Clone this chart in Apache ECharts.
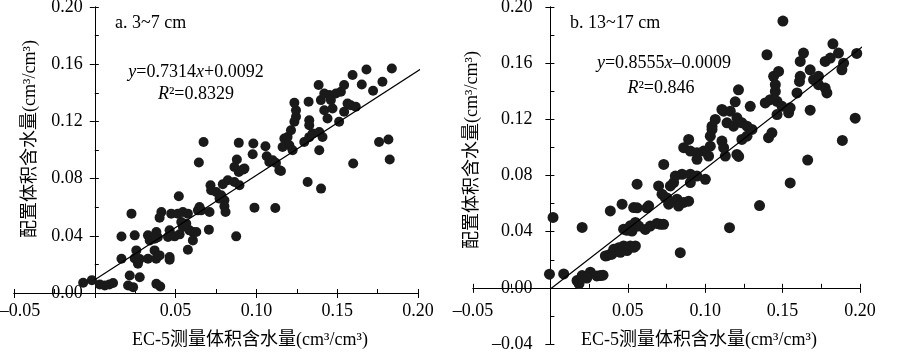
<!DOCTYPE html>
<html>
<head>
<meta charset="utf-8">
<script src="https://cdn.jsdelivr.net/npm/echarts@6/dist/echarts.min.js"></script>
</head>
<body style="margin:0;background:#fff">
<div id="main" style="width:900px;height:353px"></div>
<script>
// a. 3~7 cm : [EC-5, 配置]
var ptsA = [
  [-0.0072,0.0072],[-0.0018,0.009],[0.0031,0.006],[0.0062,0.0052],[0.009,0.006],[0.0113,0.007],
  [0.0216,0.0123],[0.0278,0.011],[0.0206,0.0053],[0.0237,0.0041],[0.0381,0.0064],[0.0405,0.0045],
  [0.0165,0.024],[0.0165,0.0395],[0.0227,0.0555],[0.0247,0.0403],[0.0257,0.0298],[0.0247,0.0242],
  [0.0267,0.0205],[0.0278,0.0238],[0.0329,0.0403],[0.034,0.0368],[0.039,0.039],[0.037,0.0298],
  [0.0329,0.024],[0.038,0.024],[0.0401,0.0263],[0.0463,0.0233],[0.0463,0.0251],
  [0.0412,0.0566],[0.0401,0.0527],[0.0473,0.0555],[0.0514,0.0555],[0.0545,0.0566],[0.0576,0.0555],[0.052,0.0676],
  [0.0463,0.0438],[0.0453,0.0391],[0.0381,0.0426],[0.037,0.038],[0.0494,0.0396],[0.0525,0.041],
  [0.0535,0.0496],[0.0545,0.0461],[0.0586,0.0438],[0.0607,0.0426],[0.0607,0.0368],[0.0576,0.0303],[0.0566,0.0485],
  [0.0638,0.0578],[0.0658,0.0578],[0.0706,0.0443],[0.0628,0.0426],[0.0648,0.0601],
  [0.0673,0.1056],[0.0644,0.0912],
  [0.0716,0.0753],[0.072,0.0718],[0.0751,0.0706],[0.0782,0.0683],[0.0802,0.0648],[0.0802,0.0606],
  [0.0809,0.0566],[0.0772,0.066],[0.071,0.0566],[0.0823,0.0788],[0.0792,0.076],[0.0895,0.0753],
  [0.0864,0.0776],[0.0879,0.0933],[0.0864,0.0881],[0.0891,0.0846],[0.0916,0.0863],[0.0926,0.087],
  [0.0875,0.0396],[0.0891,0.105],
  [0.0988,0.0597],[0.0981,0.1045],[0.0977,0.097],[0.1056,0.1026],[0.1064,0.0956],[0.108,0.0916],
  [0.1121,0.0909],[0.1152,0.0853],[0.1117,0.0594],
  [0.1101,0.0928],[0.1142,0.0858],[0.1162,0.1021],[0.1173,0.108],[0.1193,0.1091],[0.1204,0.1033],
  [0.1224,0.0998],[0.1214,0.1138],[0.1235,0.1197],[0.1245,0.1232],[0.1245,0.1278],[0.1235,0.133],
  [0.1296,0.1056],[0.1327,0.109],[0.1348,0.1115],[0.1327,0.1208],[0.1327,0.1173],[0.1323,0.1337],
  [0.1317,0.0776],[0.14,0.073],[0.1389,0.0998],[0.1389,0.1126],[0.1409,0.1091],[0.142,0.1278],
  [0.144,0.122],[0.1471,0.129],[0.1385,0.1454],[0.1399,0.1349],[0.142,0.1395],[0.1451,0.1384],
  [0.1461,0.1349],[0.1492,0.1395],[0.1523,0.1407],[0.1543,0.1454],[0.1512,0.1197],[0.1543,0.1267],
  [0.1564,0.1325],[0.1584,0.1313],[0.1615,0.1302],[0.1595,0.1524],[0.1652,0.1458],[0.1681,0.1563],
  [0.1722,0.1414],[0.178,0.1477],[0.1838,0.157],[0.1759,0.1056],[0.1817,0.1073],[0.1825,0.0933],[0.1599,0.0905]
];
// b. 13~17 cm
var ptsB = [
  [-0.0006,0.0097],[0.0017,0.0501],[0.0086,0.0099],[0.0172,0.0052],[0.0205,0.0087],[0.0185,0.003],
  [0.0258,0.0111],[0.0235,0.007],[0.030,0.0085],[0.0323,0.0087],[0.034,0.009],[0.0205,0.043],
  [0.0355,0.0227],[0.0366,0.0229],[0.0387,0.0239],[0.0398,0.024],[0.0409,0.0274],[0.0441,0.0286],
  [0.0452,0.0253],[0.0473,0.0298],[0.0495,0.0265],[0.0516,0.0298],[0.0538,0.0289],[0.0549,0.0298],
  [0.0387,0.0548],[0.0463,0.0596],[0.0473,0.0418],[0.0495,0.041],[0.0516,0.0442],[0.0527,0.0404],
  [0.0549,0.0466],[0.0549,0.044],[0.057,0.044],[0.0613,0.0416],[0.0645,0.044],[0.0688,0.0459],
  [0.071,0.0452],[0.0731,0.0452],[0.056,0.0738],[0.056,0.057],[0.0538,0.0572],[0.0624,0.057],
  [0.0635,0.0584],[0.0839,0.025],
  [0.0699,0.0726],[0.0721,0.0667],[0.0742,0.0643],[0.0753,0.064],[0.0764,0.0596],[0.0732,0.0879],
  [0.0775,0.0726],[0.0796,0.075],[0.0807,0.0796],[0.085,0.0809],[0.0818,0.0631],[0.0828,0.0582],
  [0.0861,0.0608],[0.0893,0.0617],[0.0904,0.0809],[0.0947,0.0796],[0.1001,0.0773],[0.0904,0.075],
  [0.0861,0.0998],[0.0893,0.1057],[0.0904,0.0974],[0.0947,0.0962],[0.0947,0.0915],[0.099,0.0974],
  [0.1022,0.0938],[0.1033,0.1009],[0.1108,0.1045],[0.1119,0.0998],[0.113,0.0938],[0.1205,0.095],
  [0.1216,0.0936],[0.1157,0.0428],
  [0.1044,0.1128],[0.1065,0.1199],[0.1033,0.108],[0.1044,0.1151],[0.1108,0.127],[0.1119,0.1258],
  [0.1141,0.1175],[0.1162,0.1258],[0.1183,0.1151],[0.1194,0.1325],[0.1215,0.141],[0.1205,0.1211],
  [0.1237,0.1175],[0.1237,0.1057],[0.127,0.1151],[0.127,0.108],[0.1291,0.1293],[0.1302,0.1128],[0.1351,0.0586],
  [0.1388,0.1317],[0.1399,0.166],[0.1409,0.1069],[0.142,0.134],[0.1431,0.1104],[0.1442,0.1506],
  [0.1453,0.1447],[0.1453,0.1399],[0.1464,0.1328],[0.1464,0.1234],[0.1474,0.1541],[0.1496,0.1293],
  [0.1502,0.19],[0.1539,0.1246],[0.1549,0.1282],[0.1549,0.0747],[0.1593,0.1388],[0.1609,0.147],
  [0.1614,0.1506],[0.1614,0.1612],[0.1635,0.1672],[0.1662,0.091],[0.1678,0.1265],[0.1678,0.1553],
  [0.17,0.1482],[0.1732,0.1506],[0.1732,0.1447],[0.1775,0.1423],[0.1786,0.1388],[0.1775,0.1612],
  [0.1808,0.1636],[0.1825,0.1738],[0.1861,0.1672],[0.1883,0.1553],[0.1894,0.16],[0.1886,0.105],
  [0.1969,0.1208],[0.1979,0.1669]
];
var fitA = [[0, 0.0092], [0.205, 0.159]];
var fitB = [[0, -0.0009], [0.224, 0.191]];

var FONT = "'Liberation Serif', 'Noto Sans CJK SC', serif";
var FS = 18;
var W = 900, H = 353;
var gridA = { left: 14, right: 482, top: 7, bottom: 60 };
var gridB = { left: 473, right: 40, top: 7, bottom: 9 };

function tickText(v, zeroBlank) {
  if (Math.abs(v) < 1e-9) return zeroBlank ? '' : '0.00';
  var s = Math.abs(v).toFixed(2);
  return v < 0 ? '\u2013' + s : s;
}

// pixel distance from the grid edge to the value 0 of an axis
function zeroShift(g, dim, min, max) {
  var len = dim === 'x' ? W - g.left - g.right : H - g.top - g.bottom;
  return (0 - min) / (max - min) * len;
}

// two overlaid axes per dimension give the crossing major ticks
function axes(dim, grid, min, max, step, margin, offset, padFirst) {
  var line = { onZero: false, lineStyle: { color: '#000', width: 1 } };
  var common = {
    gridIndex: grid, type: 'value', min: min, max: max, interval: step,
    position: dim === 'x' ? 'bottom' : 'left', offset: -offset,
    splitLine: { show: false }
  };
  var main = Object.assign({}, common, {
    axisLine: line,
    axisTick: { show: true, length: 5, lineStyle: { color: '#000' } },
    axisLabel: {
      margin: margin, fontSize: FS, fontFamily: FONT, color: '#000', showMinLabel: true, showMaxLabel: true,
      hideOverlap: false,
      formatter: function (v) {
        var t = tickText(v, dim === 'x');
        if (padFirst && v < min + 1e-9) return '{m|' + t + '}';
        return t;
      },
      rich: { m: { padding: [0, 0, 0, 12] } }
    }
  });
  var inner = Object.assign({}, common, {
    axisLine: line,
    axisTick: { show: true, inside: true, length: 4, lineStyle: { color: '#000' } },
    minorTick: { show: true, splitNumber: 2, length: 4, lineStyle: { color: '#000' } },
    axisLabel: { show: false }
  });
  return [main, inner];
}

function txt(x, y, s, extra) {
  var o = {
    type: 'text', x: x, y: y,
    style: { text: s, fontSize: FS, fontFamily: FONT, fill: '#000', align: 'center', verticalAlign: 'middle' }
  };
  if (extra) for (var k in extra) o[k] = extra[k];
  return o;
}
function eq(x, y, s) {
  return {
    type: 'text', x: x, y: y,
    style: {
      text: s, fontSize: FS, fontFamily: FONT, fill: '#000', align: 'center', verticalAlign: 'middle',
      rich: {
        i: { fontSize: FS, fontFamily: FONT, fill: '#000', fontStyle: 'italic' },
        n: { fontSize: FS, fontFamily: FONT, fill: '#000' }
      }
    }
  };
}

var xT = 'EC-5测量体积含水量(cm³/cm³)';
var yT = '配置体积含水量(cm³/cm³)';

var chart = echarts.init(document.getElementById('main'));
chart.setOption({
  animation: false,
  grid: [
    Object.assign({ containLabel: false, outerBoundsMode: 'none' }, gridA),
    Object.assign({ containLabel: false, outerBoundsMode: 'none' }, gridB)
  ],
  xAxis: [].concat(
    axes('x', 0, -0.05, 0.2, 0.05, 9, zeroShift(gridA, 'y', 0, 0.2), true),
    axes('x', 1, -0.05, 0.2, 0.05, 14, zeroShift(gridB, 'y', -0.04, 0.2), false)
  ),
  yAxis: [].concat(
    axes('y', 0, 0, 0.2, 0.04, 12, zeroShift(gridA, 'x', -0.05, 0.2), false),
    axes('y', 1, -0.04, 0.2, 0.04, 18, zeroShift(gridB, 'x', -0.05, 0.2), false)
  ),
  series: [
    { type: 'scatter', xAxisIndex: 0, yAxisIndex: 0, data: ptsA, symbolSize: 10,
      itemStyle: { color: '#1a1a1a', opacity: 1 } },
    { type: 'line', xAxisIndex: 0, yAxisIndex: 0, data: fitA, symbol: 'none', clip: false,
      lineStyle: { color: '#000', width: 1.2 } },
    { type: 'scatter', xAxisIndex: 2, yAxisIndex: 2, data: ptsB, symbolSize: 11,
      itemStyle: { color: '#1a1a1a', opacity: 1 } },
    { type: 'line', xAxisIndex: 2, yAxisIndex: 2, data: fitB, symbol: 'none', clip: false,
      lineStyle: { color: '#000', width: 1.2 } }
  ],
  graphic: [
    txt(250, 340, xT),
    txt(699, 340, xT),
    txt(30, 139, yT, { rotation: Math.PI / 2 }),
    txt(472, 150, yT, { rotation: Math.PI / 2 }),
    { type: 'text', x: 115, y: 23, style: { text: 'a. 3~7 cm', fontSize: FS, fontFamily: FONT, fill: '#000', verticalAlign: 'middle' } },
    { type: 'text', x: 570, y: 23, style: { text: 'b. 13~17 cm', fontSize: FS, fontFamily: FONT, fill: '#000', verticalAlign: 'middle' } },
    eq(196, 72, '{i|y}{n|=0.7314}{i|x}{n|+0.0092}'),
    eq(196, 94, '{i|R}{n|²=0.8329}'),
    eq(664, 63, '{i|y}{n|=0.8555}{i|x}{n|\u20130.0009}'),
    eq(661, 88, '{i|R}{n|²=0.846}')
  ]
});
</script>
</body>
</html>
